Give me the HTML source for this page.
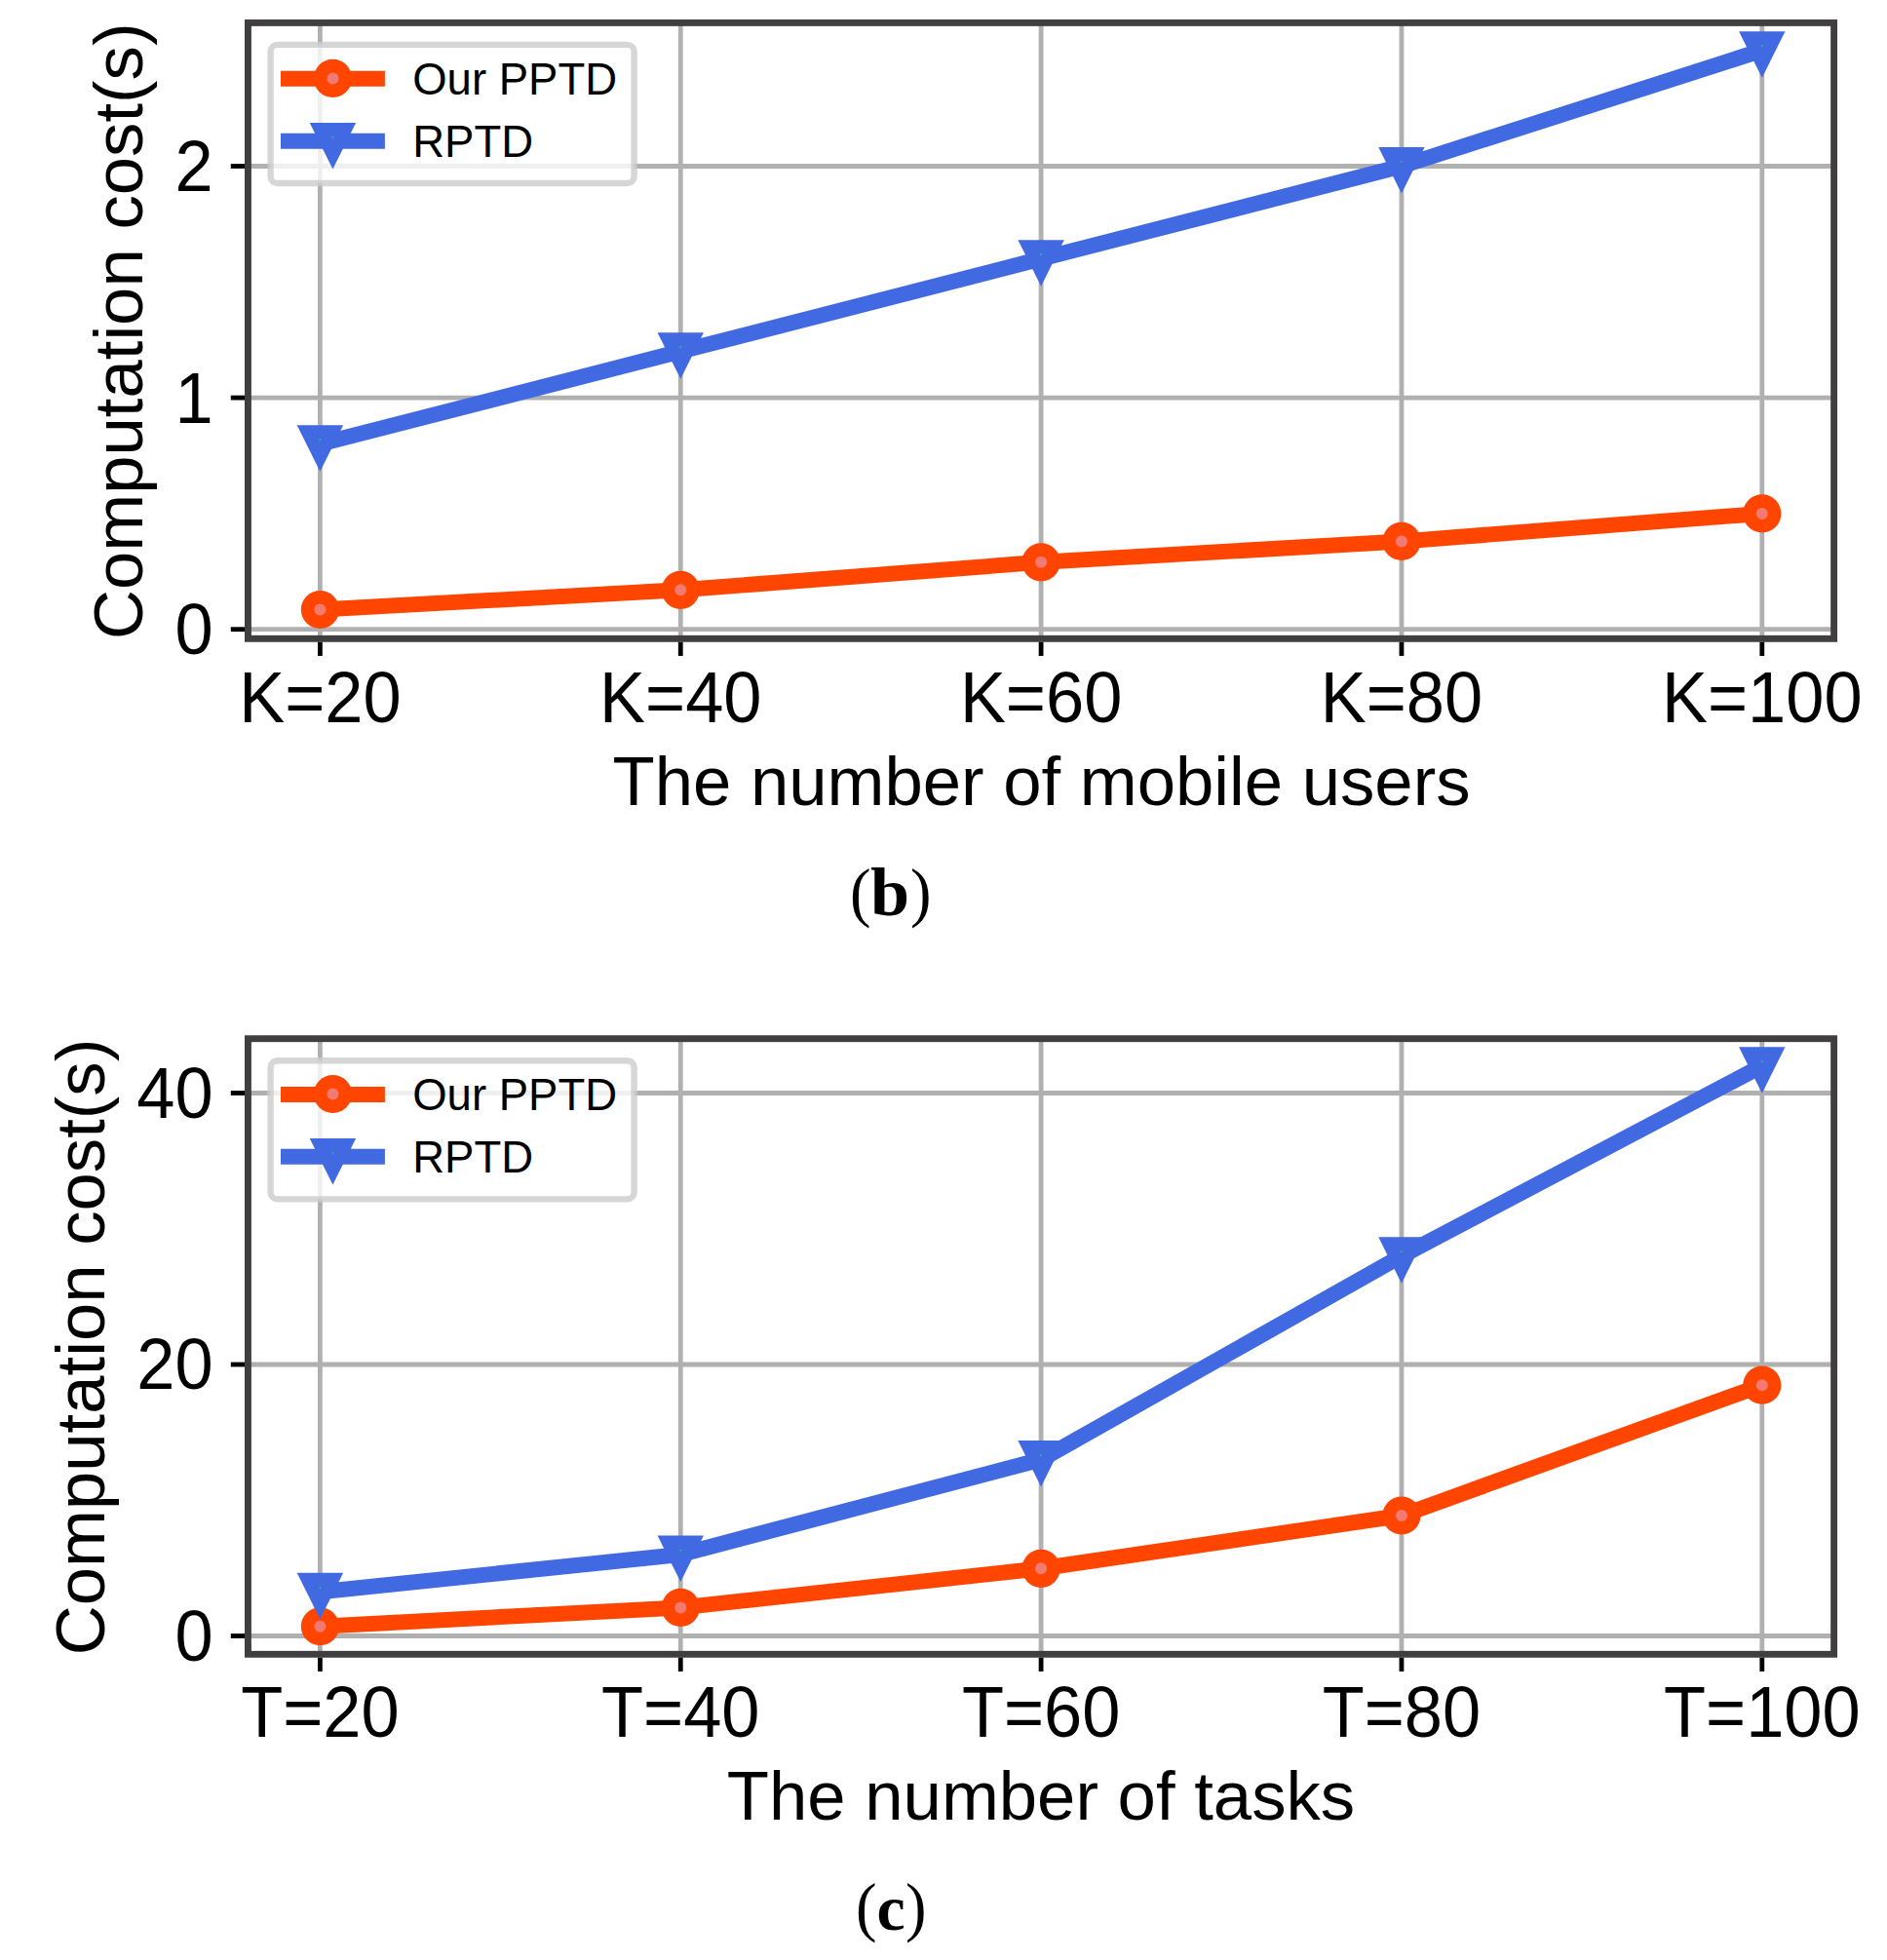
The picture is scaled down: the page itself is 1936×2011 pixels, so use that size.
<!DOCTYPE html>
<html lang="en"><head><meta charset="utf-8"><title>Computation cost</title>
<style>html,body{margin:0;padding:0;background:#fff}svg{display:block}</style></head>
<body>
<svg width="1936" height="2011" viewBox="0 0 1936 2011">
<rect width="1936" height="2011" fill="#fff"/>
<g id="chart-b">
<rect x="254.45" y="23.4" width="1627.1499999999999" height="631.9" fill="#fff"/>
<line x1="328.4" y1="23.4" x2="328.4" y2="655.3" stroke="#b0b0b0" stroke-width="4.8"/>
<line x1="698.25" y1="23.4" x2="698.25" y2="655.3" stroke="#b0b0b0" stroke-width="4.8"/>
<line x1="1068.1" y1="23.4" x2="1068.1" y2="655.3" stroke="#b0b0b0" stroke-width="4.8"/>
<line x1="1437.9500000000003" y1="23.4" x2="1437.9500000000003" y2="655.3" stroke="#b0b0b0" stroke-width="4.8"/>
<line x1="1807.8000000000002" y1="23.4" x2="1807.8000000000002" y2="655.3" stroke="#b0b0b0" stroke-width="4.8"/>
<line x1="254.45" y1="645.70" x2="1881.6" y2="645.70" stroke="#b0b0b0" stroke-width="4.8"/>
<line x1="254.45" y1="408.10" x2="1881.6" y2="408.10" stroke="#b0b0b0" stroke-width="4.8"/>
<line x1="254.45" y1="170.50" x2="1881.6" y2="170.50" stroke="#b0b0b0" stroke-width="4.8"/>
<polyline points="328.40,625.50 698.25,605.31 1068.10,576.80 1437.95,555.41 1807.80,526.90" fill="none" stroke="#ff4500" stroke-width="16.0" stroke-linejoin="round" stroke-linecap="butt"/>
<circle cx="328.40" cy="625.50" r="19.6" fill="#ff4500"/><circle cx="328.40" cy="625.50" r="6.0" fill="#f27a72"/>
<circle cx="698.25" cy="605.31" r="19.6" fill="#ff4500"/><circle cx="698.25" cy="605.31" r="6.0" fill="#f27a72"/>
<circle cx="1068.10" cy="576.80" r="19.6" fill="#ff4500"/><circle cx="1068.10" cy="576.80" r="6.0" fill="#f27a72"/>
<circle cx="1437.95" cy="555.41" r="19.6" fill="#ff4500"/><circle cx="1437.95" cy="555.41" r="6.0" fill="#f27a72"/>
<circle cx="1807.80" cy="526.90" r="19.6" fill="#ff4500"/><circle cx="1807.80" cy="526.90" r="6.0" fill="#f27a72"/>
<polyline points="328.40,455.62 698.25,360.58 1068.10,265.54 1437.95,170.50 1807.80,51.70" fill="none" stroke="#4169e1" stroke-width="16.0" stroke-linejoin="round" stroke-linecap="butt"/>
<polygon points="304.70,436.22 352.10,436.22 328.40,483.72" fill="#4169e1"/><circle cx="328.40" cy="451.12" r="1" fill="#1fc77c"/>
<polygon points="674.55,341.18 721.95,341.18 698.25,388.68" fill="#4169e1"/><circle cx="698.25" cy="356.08" r="1" fill="#1fc77c"/>
<polygon points="1044.40,246.14 1091.80,246.14 1068.10,293.64" fill="#4169e1"/><circle cx="1068.10" cy="261.04" r="1" fill="#1fc77c"/>
<polygon points="1414.25,151.10 1461.65,151.10 1437.95,198.60" fill="#4169e1"/><circle cx="1437.95" cy="166.00" r="1" fill="#1fc77c"/>
<polygon points="1784.10,32.30 1831.50,32.30 1807.80,79.80" fill="#4169e1"/><circle cx="1807.80" cy="47.20" r="1" fill="#1fc77c"/>
<rect x="254.45" y="23.4" width="1627.1499999999999" height="631.9" fill="none" stroke="#403e3f" stroke-width="6.9"/>
<line x1="328.4" y1="658.75" x2="328.4" y2="672.95" stroke="#000" stroke-width="4.8"/>
<line x1="698.25" y1="658.75" x2="698.25" y2="672.95" stroke="#000" stroke-width="4.8"/>
<line x1="1068.1" y1="658.75" x2="1068.1" y2="672.95" stroke="#000" stroke-width="4.8"/>
<line x1="1437.9500000000003" y1="658.75" x2="1437.9500000000003" y2="672.95" stroke="#000" stroke-width="4.8"/>
<line x1="1807.8000000000002" y1="658.75" x2="1807.8000000000002" y2="672.95" stroke="#000" stroke-width="4.8"/>
<line x1="251.00" y1="645.70" x2="236.80" y2="645.70" stroke="#000" stroke-width="4.8"/>
<line x1="251.00" y1="408.10" x2="236.80" y2="408.10" stroke="#000" stroke-width="4.8"/>
<line x1="251.00" y1="170.50" x2="236.80" y2="170.50" stroke="#000" stroke-width="4.8"/>
<text transform="translate(328.40,740.5) scale(1,1.04)" font-family="Liberation Sans, Arial, Helvetica, sans-serif" font-size="70.4" text-anchor="middle" fill="#000">K=20</text>
<text transform="translate(698.25,740.5) scale(1,1.04)" font-family="Liberation Sans, Arial, Helvetica, sans-serif" font-size="70.4" text-anchor="middle" fill="#000">K=40</text>
<text transform="translate(1068.10,740.5) scale(1,1.04)" font-family="Liberation Sans, Arial, Helvetica, sans-serif" font-size="70.4" text-anchor="middle" fill="#000">K=60</text>
<text transform="translate(1437.95,740.5) scale(1,1.04)" font-family="Liberation Sans, Arial, Helvetica, sans-serif" font-size="70.4" text-anchor="middle" fill="#000">K=80</text>
<text transform="translate(1807.80,740.5) scale(1,1.04)" font-family="Liberation Sans, Arial, Helvetica, sans-serif" font-size="70.4" text-anchor="middle" fill="#000">K=100</text>
<text transform="translate(218.6,671.10) scale(1,1.04)" font-family="Liberation Sans, Arial, Helvetica, sans-serif" font-size="70.4" text-anchor="end" fill="#000">0</text>
<text transform="translate(218.6,433.50) scale(1,1.04)" font-family="Liberation Sans, Arial, Helvetica, sans-serif" font-size="70.4" text-anchor="end" fill="#000">1</text>
<text transform="translate(218.6,195.90) scale(1,1.04)" font-family="Liberation Sans, Arial, Helvetica, sans-serif" font-size="70.4" text-anchor="end" fill="#000">2</text>
<text x="1068.5" y="825.8" font-family="Liberation Sans, Arial, Helvetica, sans-serif" font-size="70.7" text-anchor="middle" fill="#000">The number of mobile users</text>
<text transform="translate(145.9,339.8) rotate(-90)" font-family="Liberation Sans, Arial, Helvetica, sans-serif" font-size="70.7" text-anchor="middle" fill="#000">Computation cost(s)</text>
<rect x="277.6" y="45.9" width="373" height="142.1" rx="7" ry="7" fill="#fff" fill-opacity="0.8" stroke="#cccccc" stroke-opacity="0.8" stroke-width="6.4"/>
<line x1="288" y1="80.8" x2="394.9" y2="80.8" stroke="#ff4500" stroke-width="16.0"/>
<circle cx="341.45" cy="80.40" r="19.6" fill="#ff4500"/><circle cx="341.45" cy="80.40" r="6.0" fill="#f27a72"/>
<line x1="288" y1="144.7" x2="394.9" y2="144.7" stroke="#4169e1" stroke-width="16.0"/>
<polygon points="317.75,126.10 365.15,126.10 341.45,173.60" fill="#4169e1"/><circle cx="341.45" cy="141.00" r="1" fill="#1fc77c"/>
<text transform="translate(423.2,96.70) scale(1,1.0)" font-family="Liberation Sans, Arial, Helvetica, sans-serif" font-size="45.5" fill="#000">Our PPTD</text>
<text transform="translate(423.2,160.60) scale(1,1.0)" font-family="Liberation Sans, Arial, Helvetica, sans-serif" font-size="45.5" fill="#000">RPTD</text>
<text transform="translate(872.0,937.8) scale(0.95,1)" font-family="Liberation Serif, Times New Roman, serif" font-size="68.00" fill="#000">(</text>
<text transform="translate(893.0,938.9) scale(1.035,1)" font-family="Liberation Serif, Times New Roman, serif" font-weight="bold" font-size="69.60" fill="#000">b</text>
<text transform="translate(933.9,937.8) scale(0.95,1)" font-family="Liberation Serif, Times New Roman, serif" font-size="68.00" fill="#000">)</text>
</g>
<g id="chart-c">
<rect x="254.45" y="1065.7" width="1627.1499999999999" height="631.5999999999999" fill="#fff"/>
<line x1="328.4" y1="1065.7" x2="328.4" y2="1697.3" stroke="#b0b0b0" stroke-width="4.8"/>
<line x1="698.25" y1="1065.7" x2="698.25" y2="1697.3" stroke="#b0b0b0" stroke-width="4.8"/>
<line x1="1068.1" y1="1065.7" x2="1068.1" y2="1697.3" stroke="#b0b0b0" stroke-width="4.8"/>
<line x1="1437.9500000000003" y1="1065.7" x2="1437.9500000000003" y2="1697.3" stroke="#b0b0b0" stroke-width="4.8"/>
<line x1="1807.8000000000002" y1="1065.7" x2="1807.8000000000002" y2="1697.3" stroke="#b0b0b0" stroke-width="4.8"/>
<line x1="254.45" y1="1678.50" x2="1881.6" y2="1678.50" stroke="#b0b0b0" stroke-width="4.8"/>
<line x1="254.45" y1="1400.00" x2="1881.6" y2="1400.00" stroke="#b0b0b0" stroke-width="4.8"/>
<line x1="254.45" y1="1121.50" x2="1881.6" y2="1121.50" stroke="#b0b0b0" stroke-width="4.8"/>
<polyline points="328.40,1668.75 698.25,1649.40 1068.10,1609.29 1437.95,1554.99 1807.80,1421.17" fill="none" stroke="#ff4500" stroke-width="16.0" stroke-linejoin="round" stroke-linecap="butt"/>
<circle cx="328.40" cy="1668.75" r="19.6" fill="#ff4500"/><circle cx="328.40" cy="1668.75" r="6.0" fill="#f27a72"/>
<circle cx="698.25" cy="1649.40" r="19.6" fill="#ff4500"/><circle cx="698.25" cy="1649.40" r="6.0" fill="#f27a72"/>
<circle cx="1068.10" cy="1609.29" r="19.6" fill="#ff4500"/><circle cx="1068.10" cy="1609.29" r="6.0" fill="#f27a72"/>
<circle cx="1437.95" cy="1554.99" r="19.6" fill="#ff4500"/><circle cx="1437.95" cy="1554.99" r="6.0" fill="#f27a72"/>
<circle cx="1807.80" cy="1421.17" r="19.6" fill="#ff4500"/><circle cx="1807.80" cy="1421.17" r="6.0" fill="#f27a72"/>
<polyline points="328.40,1633.24 698.25,1594.95 1068.10,1497.47 1437.95,1288.60 1807.80,1093.65" fill="none" stroke="#4169e1" stroke-width="16.0" stroke-linejoin="round" stroke-linecap="butt"/>
<polygon points="304.70,1613.84 352.10,1613.84 328.40,1661.34" fill="#4169e1"/><circle cx="328.40" cy="1628.74" r="1" fill="#1fc77c"/>
<polygon points="674.55,1575.55 721.95,1575.55 698.25,1623.05" fill="#4169e1"/><circle cx="698.25" cy="1590.45" r="1" fill="#1fc77c"/>
<polygon points="1044.40,1478.07 1091.80,1478.07 1068.10,1525.57" fill="#4169e1"/><circle cx="1068.10" cy="1492.97" r="1" fill="#1fc77c"/>
<polygon points="1414.25,1269.20 1461.65,1269.20 1437.95,1316.70" fill="#4169e1"/><circle cx="1437.95" cy="1284.10" r="1" fill="#1fc77c"/>
<polygon points="1784.10,1074.25 1831.50,1074.25 1807.80,1121.75" fill="#4169e1"/><circle cx="1807.80" cy="1089.15" r="1" fill="#1fc77c"/>
<rect x="254.45" y="1065.7" width="1627.1499999999999" height="631.5999999999999" fill="none" stroke="#403e3f" stroke-width="6.9"/>
<line x1="328.4" y1="1700.75" x2="328.4" y2="1714.95" stroke="#000" stroke-width="4.8"/>
<line x1="698.25" y1="1700.75" x2="698.25" y2="1714.95" stroke="#000" stroke-width="4.8"/>
<line x1="1068.1" y1="1700.75" x2="1068.1" y2="1714.95" stroke="#000" stroke-width="4.8"/>
<line x1="1437.9500000000003" y1="1700.75" x2="1437.9500000000003" y2="1714.95" stroke="#000" stroke-width="4.8"/>
<line x1="1807.8000000000002" y1="1700.75" x2="1807.8000000000002" y2="1714.95" stroke="#000" stroke-width="4.8"/>
<line x1="251.00" y1="1678.50" x2="236.80" y2="1678.50" stroke="#000" stroke-width="4.8"/>
<line x1="251.00" y1="1400.00" x2="236.80" y2="1400.00" stroke="#000" stroke-width="4.8"/>
<line x1="251.00" y1="1121.50" x2="236.80" y2="1121.50" stroke="#000" stroke-width="4.8"/>
<text transform="translate(328.40,1782.3) scale(1,1.04)" font-family="Liberation Sans, Arial, Helvetica, sans-serif" font-size="70.4" text-anchor="middle" fill="#000">T=20</text>
<text transform="translate(698.25,1782.3) scale(1,1.04)" font-family="Liberation Sans, Arial, Helvetica, sans-serif" font-size="70.4" text-anchor="middle" fill="#000">T=40</text>
<text transform="translate(1068.10,1782.3) scale(1,1.04)" font-family="Liberation Sans, Arial, Helvetica, sans-serif" font-size="70.4" text-anchor="middle" fill="#000">T=60</text>
<text transform="translate(1437.95,1782.3) scale(1,1.04)" font-family="Liberation Sans, Arial, Helvetica, sans-serif" font-size="70.4" text-anchor="middle" fill="#000">T=80</text>
<text transform="translate(1807.80,1782.3) scale(1,1.04)" font-family="Liberation Sans, Arial, Helvetica, sans-serif" font-size="70.4" text-anchor="middle" fill="#000">T=100</text>
<text transform="translate(218.6,1703.90) scale(1,1.04)" font-family="Liberation Sans, Arial, Helvetica, sans-serif" font-size="70.4" text-anchor="end" fill="#000">0</text>
<text transform="translate(218.6,1425.40) scale(1,1.04)" font-family="Liberation Sans, Arial, Helvetica, sans-serif" font-size="70.4" text-anchor="end" fill="#000">20</text>
<text transform="translate(218.6,1146.90) scale(1,1.04)" font-family="Liberation Sans, Arial, Helvetica, sans-serif" font-size="70.4" text-anchor="end" fill="#000">40</text>
<text x="1068" y="1867" font-family="Liberation Sans, Arial, Helvetica, sans-serif" font-size="70.7" text-anchor="middle" fill="#000">The number of tasks</text>
<text transform="translate(106.9,1382.0) rotate(-90)" font-family="Liberation Sans, Arial, Helvetica, sans-serif" font-size="70.7" text-anchor="middle" fill="#000">Computation cost(s)</text>
<rect x="277.6" y="1088.3" width="373" height="142.1" rx="7" ry="7" fill="#fff" fill-opacity="0.8" stroke="#cccccc" stroke-opacity="0.8" stroke-width="6.4"/>
<line x1="288" y1="1122.9" x2="394.9" y2="1122.9" stroke="#ff4500" stroke-width="16.0"/>
<circle cx="341.45" cy="1122.50" r="19.6" fill="#ff4500"/><circle cx="341.45" cy="1122.50" r="6.0" fill="#f27a72"/>
<line x1="288" y1="1186.7" x2="394.9" y2="1186.7" stroke="#4169e1" stroke-width="16.0"/>
<polygon points="317.75,1168.10 365.15,1168.10 341.45,1215.60" fill="#4169e1"/><circle cx="341.45" cy="1183.00" r="1" fill="#1fc77c"/>
<text transform="translate(423.2,1138.80) scale(1,1.0)" font-family="Liberation Sans, Arial, Helvetica, sans-serif" font-size="45.5" fill="#000">Our PPTD</text>
<text transform="translate(423.2,1202.60) scale(1,1.0)" font-family="Liberation Sans, Arial, Helvetica, sans-serif" font-size="45.5" fill="#000">RPTD</text>
<text transform="translate(877.9,1979.2) scale(0.95,1)" font-family="Liberation Serif, Times New Roman, serif" font-size="68.00" fill="#000">(</text>
<text transform="translate(899.4,1980.3) scale(1.0,1)" font-family="Liberation Serif, Times New Roman, serif" font-weight="bold" font-size="65.77" fill="#000">c</text>
<text transform="translate(928.9,1979.2) scale(0.95,1)" font-family="Liberation Serif, Times New Roman, serif" font-size="68.00" fill="#000">)</text>
</g>
</svg>
</body></html>
